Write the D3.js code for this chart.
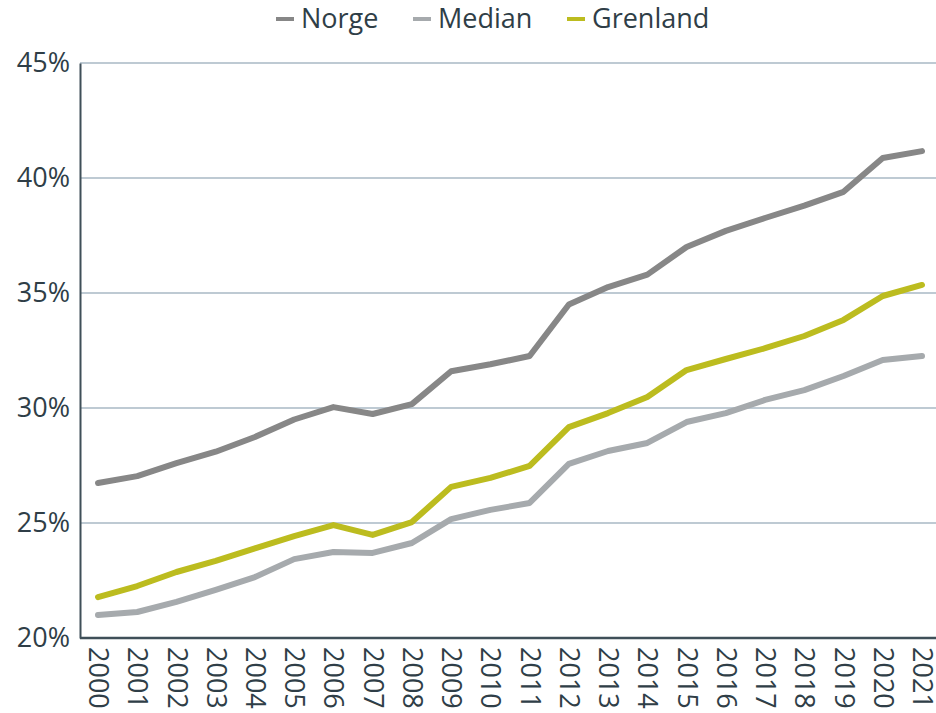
<!DOCTYPE html>
<html>
<head>
<meta charset="utf-8">
<script src="https://cdn.jsdelivr.net/npm/d3@7"></script>
<style>
  body { margin: 0; background: #fff; }
  svg { display: block; font-family: "Open Sans", sans-serif; }
</style>
</head>
<body>
<div class="chart"></div>
<script>
// Data.
const years = d3.range(2000, 2022).map(String);
const norge = [26.74, 27.04, 27.6, 28.1, 28.74, 29.5, 30.04, 29.74, 30.17, 31.6, 31.9,
  32.26, 34.5, 35.26, 35.8, 37.0, 37.7, 38.26, 38.8, 39.4, 40.87, 41.17];
const median = [21.0, 21.13, 21.57, 22.09, 22.65, 23.43, 23.74, 23.7, 24.13, 25.17, 25.57,
  25.87, 27.57, 28.13, 28.48, 29.39, 29.78, 30.35, 30.78, 31.39, 32.09, 32.26];
const grenland = [21.78, 22.26, 22.87, 23.35, 23.9, 24.43, 24.91, 24.48, 25.04, 26.57, 26.96,
  27.48, 29.17, 29.78, 30.48, 31.65, 32.13, 32.6, 33.13, 33.83, 34.87, 35.35];
const yTicks = [20, 25, 30, 35, 40, 45];

const series = [
  { name: "Norge", values: norge, color: "#878787" },
  { name: "Median", values: median, color: "#a6aaad" },
  { name: "Grenland", values: grenland, color: "#bcbc1f" },
];

const width = 936, height = 713;
const textColor = "#2f3e47";

const svg = d3.select(".chart").append("svg")
  .attr("width", width)
  .attr("height", height);

// Scales.
const xScale = d3.scalePoint().domain(years).range([98, 922]);
const yScale = d3.scaleLinear().domain([20, 45]).range([638, 63]);

// Gridlines.
svg.append("g").attr("class", "grid")
  .selectAll("line")
  .data(yTicks.filter((d) => d > 20))
  .join("line")
  .attr("x1", 80).attr("x2", 936)
  .attr("y1", (d) => yScale(d)).attr("y2", (d) => yScale(d))
  .attr("stroke", "#a9b8c4")
  .attr("stroke-width", 1.5);

// Y axis.
const yAxis = d3.axisLeft(yScale)
  .tickValues(yTicks)
  .tickSize(0)
  .tickPadding(10)
  .tickFormat((d) => d + "%");
const yAxisDraw = svg.append("g")
  .attr("transform", "translate(80,0)")
  .call(yAxis);
yAxisDraw.select(".domain").attr("stroke", "#3f4f58").attr("stroke-width", 2);
yAxisDraw.selectAll("text")
  .attr("font-size", 27)
  .attr("font-family", "Open Sans, sans-serif")
  .attr("fill", textColor);

// X axis.
const xAxis = d3.axisBottom(xScale).tickSize(0).tickPadding(0);
const xAxisDraw = svg.append("g")
  .attr("transform", "translate(0,638)")
  .call(xAxis);
xAxisDraw.select(".domain")
  .attr("d", "M80,0H936")
  .attr("stroke", "#3f4f58")
  .attr("stroke-width", 2.5);
xAxisDraw.selectAll("text")
  .attr("font-size", 27)
  .attr("font-family", "Open Sans, sans-serif")
  .attr("fill", textColor)
  .attr("y", 0)
  .attr("dy", "0.35em")
  .attr("transform", "translate(0,9) rotate(90)")
  .style("text-anchor", "start");

// Lines.
const line = d3.line()
  .x((d, i) => xScale(years[i]))
  .y((d) => yScale(d));

svg.append("g").attr("class", "lines")
  .selectAll("path")
  .data(series)
  .join("path")
  .attr("d", (d) => line(d.values))
  .attr("fill", "none")
  .attr("stroke", (d) => d.color)
  .attr("stroke-width", 6)
  .attr("stroke-linecap", "round")
  .attr("stroke-linejoin", "round");

// Legend.
const legendX = [276, 413, 567];
const legend = svg.append("g").attr("class", "legend")
  .selectAll("g")
  .data(series)
  .join("g")
  .attr("transform", (d, i) => `translate(${legendX[i]},19)`);
legend.append("line")
  .attr("x1", 0).attr("x2", 18)
  .attr("stroke", (d) => d.color)
  .attr("stroke-width", 4);
legend.append("text")
  .attr("x", 25)
  .attr("dy", "0.35em")
  .attr("font-size", 27)
  .attr("fill", textColor)
  .text((d) => d.name);
</script>
</body>
</html>
